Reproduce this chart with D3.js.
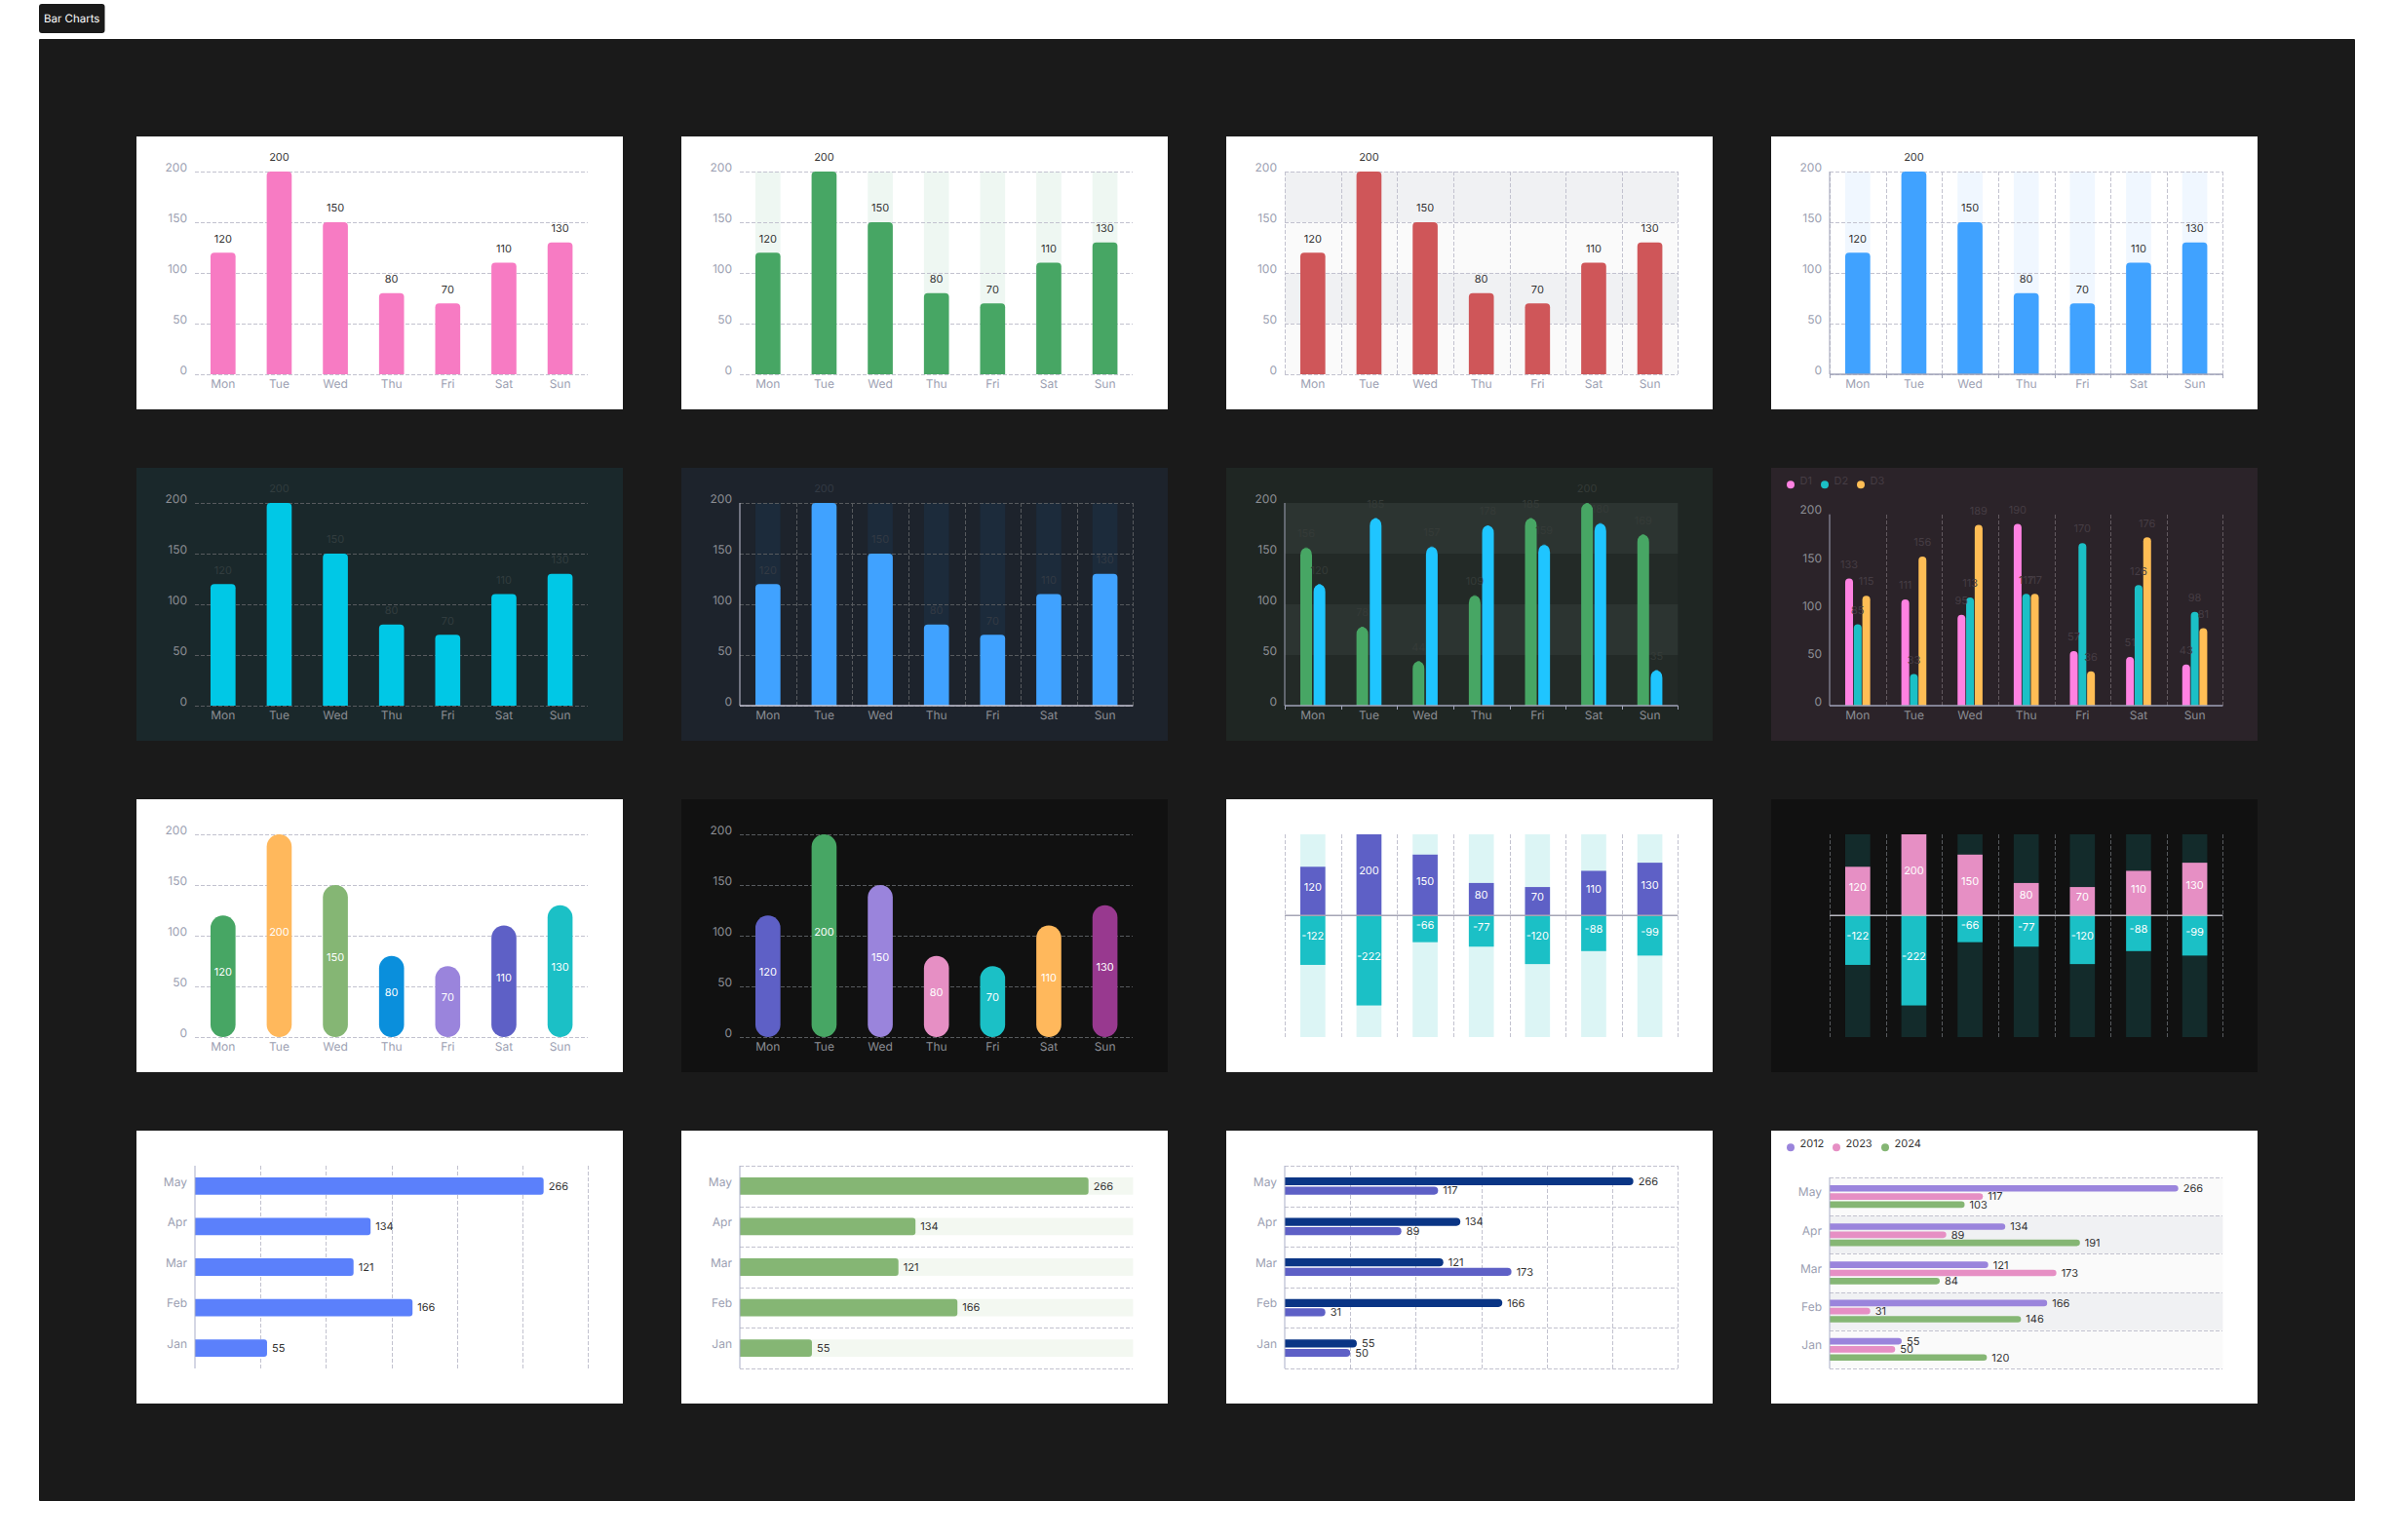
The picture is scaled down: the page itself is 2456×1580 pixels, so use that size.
<!DOCTYPE html>
<html>
<head>
<meta charset="utf-8">
<script src="https://d3js.org/d3.v7.min.js"></script>
<style>
  html, body { margin: 0; background: #fff; }
  svg { display: block; }
  text { font-family: Inter, sans-serif; font-size: 12px; text-rendering: geometricPrecision; }
  .val { font-size: 11px; }
  .tick line, .domain { shape-rendering: crispEdges; }
</style>
</head>
<body>
<div id="chart"></div>
<script>
// data
const days = ["Mon", "Tue", "Wed", "Thu", "Fri", "Sat", "Sun"];
const months = ["May", "Apr", "Mar", "Feb", "Jan"];
const weekValues = [120, 200, 150, 80, 70, 110, 130];
const weekNegative = [-122, -222, -66, -77, -120, -88, -99];
const twoA = [156, 78, 44, 109, 185, 200, 169];
const twoB = [120, 185, 157, 178, 159, 180, 35];
const d1 = [133, 111, 95, 190, 57, 51, 43];
const d2 = [85, 33, 113, 117, 170, 126, 98];
const d3s = [115, 156, 189, 117, 36, 176, 81];
const month2012 = [266, 134, 121, 166, 55];
const month2023 = [117, 89, 173, 31, 50];
const month2024 = [103, 191, 84, 146, 120];
const yTicks = [0, 50, 100, 150, 200];
const xTicks = [0, 50, 100, 150, 200, 250, 300];

// colours
const green = "#47a664", pink = "#f77bc3", red = "#cf5659", blue = "#40a2ff", cyan = "#00c8e6";
const sky = "#1fc5ff", orange = "#ffb85c", sage = "#85b674", azure = "#0a8fdc", purple = "#9a84dc";
const indigo = "#5e60c6", teal = "#1bc0c6", rose = "#e68fc4", plum = "#98398f", navy = "#0a3585";
const cornflower = "#5b80fb", lilac = "#ff82e2", amber = "#ffbe55";

const W = 2456, H = 1580;
const panelW = 499, panelH = 280;
const pL = 60, pR = 463.4, pT = 36, pB = 244;
const lightGrid = "#c2c2cf";

const svg = d3.select("#chart").append("svg").attr("width", W).attr("height", H);

// page frame
svg.append("rect").attr("x", 40).attr("y", 4).attr("width", 67.5).attr("height", 30).attr("rx", 3).attr("fill", "#1a1a1a");
svg.append("text").attr("x", 73.7).attr("y", 18.5).attr("dy", "0.35em").attr("text-anchor", "middle")
  .attr("fill", "#fff").style("font-size", "11.5px").text("Bar Charts");
svg.append("rect").attr("x", 40).attr("y", 40).attr("width", 2376).attr("height", 1500).attr("rx", 1).attr("fill", "#1a1a1a");

function panel(col, row, bg) {
  const g = svg.append("g").attr("transform", `translate(${140 + col * 559},${140 + row * 340})`);
  g.append("rect").attr("width", panelW).attr("height", panelH).attr("fill", bg);
  return g;
}

function topRound(x, y, w, h, r) {
  r = Math.min(r, h);
  return `M${x},${y + h}V${y + r}Q${x},${y} ${x + r},${y}H${x + w - r}Q${x + w},${y} ${x + w},${y + r}V${y + h}Z`;
}
function rightRound(x, y, w, h, r) {
  r = Math.min(r, w);
  return `M${x},${y}H${x + w - r}Q${x + w},${y} ${x + w},${y + r}V${y + h - r}Q${x + w},${y + h} ${x + w - r},${y + h}H${x}Z`;
}

function styleGrid(sel, color) {
  sel.select(".domain").remove();
  sel.selectAll("line").attr("stroke", color).attr("stroke-dasharray", "4 2");
}

function legend(g, names, colors, xs, textColor) {
  names.forEach((n, i) => {
    g.append("circle").attr("cx", xs[i]).attr("cy", 17.3).attr("r", 4).attr("fill", colors[i]);
    g.append("text").attr("class", "val").attr("x", xs[i] + 9.5).attr("y", 13.5).attr("dy", "0.35em").attr("fill", textColor).text(n);
  });
}

function verticalPanel(o) {
  const g = panel(o.col, o.row, o.bg);
  const plotTop = o.top || pT;
  const x = d3.scaleBand().domain(days).range([pL, pR]).paddingInner(0.555).paddingOuter(0.2775);
  const edge = d3.scaleLinear().domain([0, 7]).range([pL, pR]);
  const y = d3.scaleLinear().domain([0, 200]).range([pB, plotTop]);
  const gridC = o.gridColor || lightGrid, textC = o.tickColor || "#9c9fb2";

  if (o.split) {
    d3.pairs(yTicks).forEach(([a, b], i) => {
      g.append("rect").attr("x", pL).attr("y", y(b)).attr("width", pR - pL).attr("height", y(a) - y(b))
        .attr("fill", o.split[i % 2]);
    });
  }
  if (o.band) {
    g.selectAll(".band").data(days).join("rect").attr("class", "band")
      .attr("x", d => x(d)).attr("y", plotTop).attr("width", x.bandwidth()).attr("height", pB - plotTop)
      .attr("fill", o.band);
  }
  if (o.hGrid) {
    g.append("g").attr("transform", `translate(${pL},0)`)
      .call(d3.axisLeft(y).tickValues(yTicks).tickSize(pL - pR).tickFormat(""))
      .call(styleGrid, gridC);
  }
  if (o.vGrid) {
    g.append("g").attr("transform", `translate(0,${pB})`)
      .call(d3.axisBottom(edge).tickValues(o.vGrid).tickSize(plotTop - pB).tickFormat(""))
      .call(styleGrid, gridC);
  }

  // bars
  const x1 = d3.scaleBand().domain(d3.range(o.series.length)).range([0, x.bandwidth()]).paddingInner(o.series.length == 3 ? 0.09 : 0.12);
  o.series.forEach((s, si) => {
    const bw = o.series.length > 1 ? x1.bandwidth() : x.bandwidth();
    const off = o.series.length > 1 ? x1(si) : 0;
    const cols = s.colors || days.map(() => s.color);
    if (o.pill) {
      g.selectAll(".bar" + si).data(s.values).join("rect").attr("class", "bar" + si)
        .attr("x", (d, i) => x(days[i]) + off).attr("y", d => y(d))
        .attr("width", bw).attr("height", d => pB - y(d)).attr("rx", bw / 2)
        .attr("fill", (d, i) => cols[i]);
    } else {
      g.selectAll(".bar" + si).data(s.values).join("path").attr("class", "bar" + si)
        .attr("d", (d, i) => topRound(x(days[i]) + off, y(d), bw, pB - y(d), o.radius === undefined ? 4 : o.radius))
        .attr("fill", (d, i) => cols[i]);
    }
  });

  // axes
  if (o.axisLine) {
    g.append("line").attr("x1", pL).attr("x2", pL).attr("y1", plotTop).attr("y2", pB).attr("stroke", o.axisLine);
    g.append("line").attr("x1", pL).attr("x2", pR).attr("y1", pB).attr("y2", pB)
      .attr("stroke", o.axisLine).attr("stroke-width", 1.5);
  }
  if (o.axisTicks) {
    g.append("g").attr("transform", `translate(0,${pB})`)
      .call(d3.axisBottom(edge).tickValues(d3.range(8)).tickSize(4).tickFormat(""))
      .call(a => a.select(".domain").remove())
      .call(a => a.selectAll("line").attr("stroke", o.axisLine));
  }
  g.append("g").attr("transform", `translate(${pL},0)`)
    .call(d3.axisLeft(y).tickValues(yTicks).tickSize(0).tickPadding(8))
    .call(a => a.select(".domain").remove())
    .call(a => a.selectAll("text").attr("y", -4.6).attr("fill", textC));
  g.append("g").attr("transform", `translate(0,${pB})`)
    .call(d3.axisBottom(x).tickSize(0).tickPadding(5.5))
    .call(a => a.select(".domain").remove())
    .call(a => a.selectAll("text").attr("fill", textC));

  // value labels
  o.series.forEach((s, si) => {
    const bw = o.series.length > 1 ? x1.bandwidth() : x.bandwidth();
    const off = o.series.length > 1 ? x1(si) : 0;
    g.selectAll(".lab" + si).data(s.values).join("text").attr("class", "val lab" + si)
      .attr("x", (d, i) => x(days[i]) + off + bw / 2)
      .attr("y", d => o.inside ? (y(d) + pB) / 2 - 4 : y(d) - 14.5)
      .attr("dy", "0.35em").attr("text-anchor", "middle")
      .attr("fill", o.labelColor || "#333")
      .text(d => d);
  });
  if (o.legend) legend(g, o.legend.names, o.legend.colors, o.legend.xs, o.legend.text);
}

function divergingPanel(o) {
  const g = panel(o.col, o.row, o.bg);
  const x = d3.scaleBand().domain(days).range([pL, pR]).paddingInner(0.555).paddingOuter(0.2775);
  const edge = d3.scaleLinear().domain([0, 7]).range([pL, pR]);
  const y = d3.scaleLinear().domain([-300, 200]).range([pB, pT]);

  g.selectAll(".band").data(days).join("rect").attr("class", "band")
    .attr("x", d => x(d)).attr("y", pT).attr("width", x.bandwidth()).attr("height", pB - pT).attr("fill", o.band);
  g.append("g").attr("transform", `translate(0,${pB})`)
    .call(d3.axisBottom(edge).tickValues(d3.range(8)).tickSize(pT - pB).tickFormat(""))
    .call(styleGrid, o.gridColor);
  [[weekValues, o.pos], [weekNegative, o.neg]].forEach(([vals, c], si) => {
    g.selectAll(".bar" + si).data(vals).join("rect").attr("class", "bar" + si)
      .attr("x", (d, i) => x(days[i])).attr("y", d => Math.min(y(d), y(0)))
      .attr("width", x.bandwidth()).attr("height", d => Math.abs(y(d) - y(0))).attr("fill", c);
    g.selectAll(".lab" + si).data(vals).join("text").attr("class", "val lab" + si)
      .attr("x", (d, i) => x(days[i]) + x.bandwidth() / 2).attr("y", d => (y(d) + y(0)) / 2 - 4)
      .attr("dy", "0.35em").attr("text-anchor", "middle").attr("fill", "#fff").text(d => d);
  });
  g.append("line").attr("x1", pL).attr("x2", pR).attr("y1", y(0)).attr("y2", y(0))
    .attr("stroke", o.axisLine).attr("stroke-width", 1.5);
}

function horizontalPanel(o) {
  const g = panel(o.col, o.row, o.bg || "#fff");
  const plotTop = o.top || pT;
  const x = d3.scaleLinear().domain([0, 300]).range([pL, pR]);
  const y = d3.scaleBand().domain(months).range([plotTop, pB]).paddingInner(o.barPad).paddingOuter(o.barPad / 2);
  const rowEdge = d3.scaleLinear().domain([0, 5]).range([plotTop, pB]);

  if (o.split) {
    months.forEach((m, i) => {
      g.append("rect").attr("x", pL).attr("y", rowEdge(i)).attr("width", pR - pL)
        .attr("height", rowEdge(i + 1) - rowEdge(i)).attr("fill", o.split[i % 2]);
    });
  }
  if (o.band) {
    g.selectAll(".band").data(months).join("rect").attr("class", "band")
      .attr("x", pL).attr("y", d => y(d)).attr("width", pR - pL).attr("height", y.bandwidth()).attr("fill", o.band);
  }
  if (o.hGrid) {
    g.append("g").attr("transform", `translate(${pL},0)`)
      .call(d3.axisLeft(rowEdge).tickValues(d3.range(6)).tickSize(pL - pR).tickFormat(""))
      .call(styleGrid, lightGrid);
  }
  if (o.vGrid) {
    g.append("g").attr("transform", `translate(0,${pB})`)
      .call(d3.axisBottom(x).tickValues(xTicks.slice(1)).tickSize(plotTop - pB).tickFormat(""))
      .call(styleGrid, lightGrid);
  }
  const y1 = d3.scaleBand().domain(d3.range(o.series.length)).range([0, y.bandwidth()])
    .paddingInner(o.series.length == 1 ? 0 : o.series.length == 2 ? 0.15 : 0.2);
  o.series.forEach((s, si) => {
    g.selectAll(".bar" + si).data(s.values).join("path").attr("class", "bar" + si)
      .attr("d", (d, i) => rightRound(pL, y(months[i]) + y1(si), x(d) - pL, y1.bandwidth(),
        o.series.length == 1 ? 3 : y1.bandwidth() / 2))
      .attr("fill", s.color);
    g.selectAll(".lab" + si).data(s.values).join("text").attr("class", "val lab" + si)
      .attr("x", d => x(d) + 5).attr("y", (d, i) => y(months[i]) + y1(si) + y1.bandwidth() / 2)
      .attr("dy", "0.35em").attr("fill", "#333").text(d => d);
  });
  g.append("line").attr("x1", pL).attr("x2", pL).attr("y1", plotTop).attr("y2", pB).attr("stroke", "#a9aec8");
  g.append("g").attr("transform", `translate(${pL},0)`)
    .call(d3.axisLeft(y).tickSize(0).tickPadding(8))
    .call(a => a.select(".domain").remove())
    .call(a => a.selectAll("text").attr("y", -4).attr("fill", "#9c9fb2"));
  if (o.legend) legend(g, o.legend.names, o.legend.colors, o.legend.xs, "#333");
}

// row 1
const allEdges = d3.range(8);
verticalPanel({ col: 0, row: 0, bg: "#fff", hGrid: true, series: [{ values: weekValues, color: pink }] });
verticalPanel({ col: 1, row: 0, bg: "#fff", hGrid: true, band: "#eef7f2", series: [{ values: weekValues, color: green }] });
verticalPanel({ col: 2, row: 0, bg: "#fff", hGrid: true, vGrid: allEdges, split: ["#fafafa", "#f0f1f3"], series: [{ values: weekValues, color: red }] });
verticalPanel({ col: 3, row: 0, bg: "#fff", hGrid: true, vGrid: allEdges, band: "#f0f7ff", axisLine: "#a0a3b8", axisTicks: true, series: [{ values: weekValues, color: blue }] });

// row 2
const darkGrid = "#575a5e", dimTick = "#8c8e94";
verticalPanel({ col: 0, row: 1, bg: "#1a282b", hGrid: true, gridColor: darkGrid, tickColor: dimTick, labelColor: "#323d3f", series: [{ values: weekValues, color: cyan }] });
verticalPanel({ col: 1, row: 1, bg: "#1d232c", hGrid: true, vGrid: d3.range(1, 8), band: "#1c2b3b", gridColor: darkGrid, tickColor: dimTick, labelColor: "#333a44", axisLine: "#c5c5d5", series: [{ values: weekValues, color: blue }] });
verticalPanel({ col: 2, row: 1, bg: "#1f2623", split: ["#232a27", "#2c3431"], tickColor: dimTick, labelColor: "#353b38", axisLine: "#a0a3b8", axisTicks: true, radius: 8,
  series: [{ values: twoA, color: green }, { values: twoB, color: sky }] });
verticalPanel({ col: 3, row: 1, bg: "#2b2329", top: 47.7, vGrid: d3.range(1, 8), gridColor: "#62595f", tickColor: dimTick, labelColor: "#463d44", axisLine: "#a0a3b8", radius: 4,
  series: [{ values: d1, color: lilac }, { values: d2, color: teal }, { values: d3s, color: amber }],
  legend: { names: ["D1", "D2", "D3"], colors: [lilac, teal, amber], xs: [20, 55, 92], text: "#463d44" } });

// row 3
verticalPanel({ col: 0, row: 2, bg: "#fff", hGrid: true, pill: true, inside: true, labelColor: "#fff",
  series: [{ values: weekValues, colors: [green, orange, sage, azure, purple, indigo, teal] }] });
verticalPanel({ col: 1, row: 2, bg: "#111", hGrid: true, gridColor: darkGrid, tickColor: dimTick, pill: true, inside: true, labelColor: "#fff",
  series: [{ values: weekValues, colors: [indigo, green, purple, rose, teal, orange, plum] }] });
divergingPanel({ col: 2, row: 2, bg: "#fff", band: "#dcf5f5", gridColor: lightGrid, pos: indigo, neg: teal, axisLine: "#a5a5b5" });
divergingPanel({ col: 3, row: 2, bg: "#111", band: "#132b2b", gridColor: darkGrid, pos: rose, neg: teal, axisLine: "#b9b9c2" });

// row 4
horizontalPanel({ col: 0, row: 3, barPad: 0.572, vGrid: true, series: [{ values: month2012, color: cornflower }] });
horizontalPanel({ col: 1, row: 3, barPad: 0.572, hGrid: true, band: "#f3f8f1", series: [{ values: month2012, color: sage }] });
horizontalPanel({ col: 2, row: 3, barPad: 0.572, hGrid: true, vGrid: true, series: [{ values: month2012, color: navy }, { values: month2023, color: indigo }] });
horizontalPanel({ col: 3, row: 3, barPad: 0.406, top: 48, hGrid: true, split: ["#fafafa", "#f0f1f3"],
  series: [{ values: month2012, color: purple }, { values: month2023, color: rose }, { values: month2024, color: sage }],
  legend: { names: ["2012", "2023", "2024"], colors: [purple, rose, sage], xs: [20, 67, 117] } });
</script>
</body>
</html>
